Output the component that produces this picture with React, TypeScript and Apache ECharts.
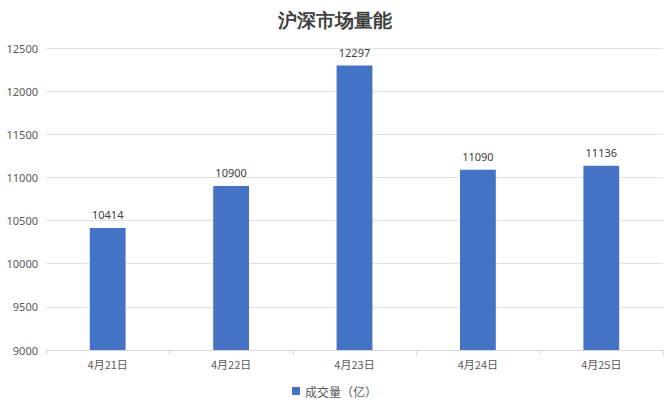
import React, { useEffect, useRef } from "react";
import * as echarts from "echarts";

const categories = ["4月21日", "4月22日", "4月23日", "4月24日", "4月25日"];
const volumes = [10414, 10900, 12297, 11090, 11136];
const seriesName = "成交量（亿）";
const titleText = "沪深市场量能";

export default function App() {
  const ref = useRef<HTMLDivElement>(null);
  useEffect(() => {
    document.body.style.margin = "0";
    if (!ref.current) return;
    const chart = echarts.init(ref.current, null, { renderer: "svg" });
    chart.setOption({
      animation: false,
      backgroundColor: "#ffffff",
      title: {
        text: titleText,
        left: "center",
        top: 6,
        textStyle: {
          fontFamily: "serif",
          fontWeight: "bold",
          fontSize: 19,
          color: "#404040",
        },
      },
      legend: {
        bottom: 8,
        left: "center",
        itemWidth: 8,
        itemHeight: 8,
        icon: "rect",
        textStyle: { color: "#595959", fontSize: 12, fontFamily: "Noto Sans CJK SC" },
        data: [seriesName],
      },
      grid: { left: 46, right: 6, top: 48, bottom: 60 },
      xAxis: {
        type: "category",
        data: categories,
        axisLine: { lineStyle: { color: "#d9d9d9" } },
        axisTick: { show: true, lineStyle: { color: "#d9d9d9" } },
        axisLabel: { color: "#595959", fontSize: 11, fontFamily: "Noto Sans CJK SC", margin: 8 },
      },
      yAxis: {
        type: "value",
        min: 9000,
        max: 12500,
        interval: 500,
        axisLine: { show: false },
        axisTick: { show: false },
        axisLabel: {
          color: "#595959",
          fontSize: 11,
          fontFamily: "Noto Sans",
          margin: 8,
          formatter: (v: number) => String(v),
        },
        splitLine: { lineStyle: { color: "#e0e0e0" } },
      },
      series: [
        {
          name: seriesName,
          type: "bar",
          data: volumes,
          barWidth: "29%",
          itemStyle: { color: "#4472c4" },
          label: {
            show: true,
            position: "top",
            distance: 8,
            color: "#404040",
            fontSize: 11,
            fontFamily: "Noto Sans",
          },
        },
      ],
    });
    return () => chart.dispose();
  }, []);
  return <div ref={ref} style={{ width: 669, height: 410 }} />;
}
